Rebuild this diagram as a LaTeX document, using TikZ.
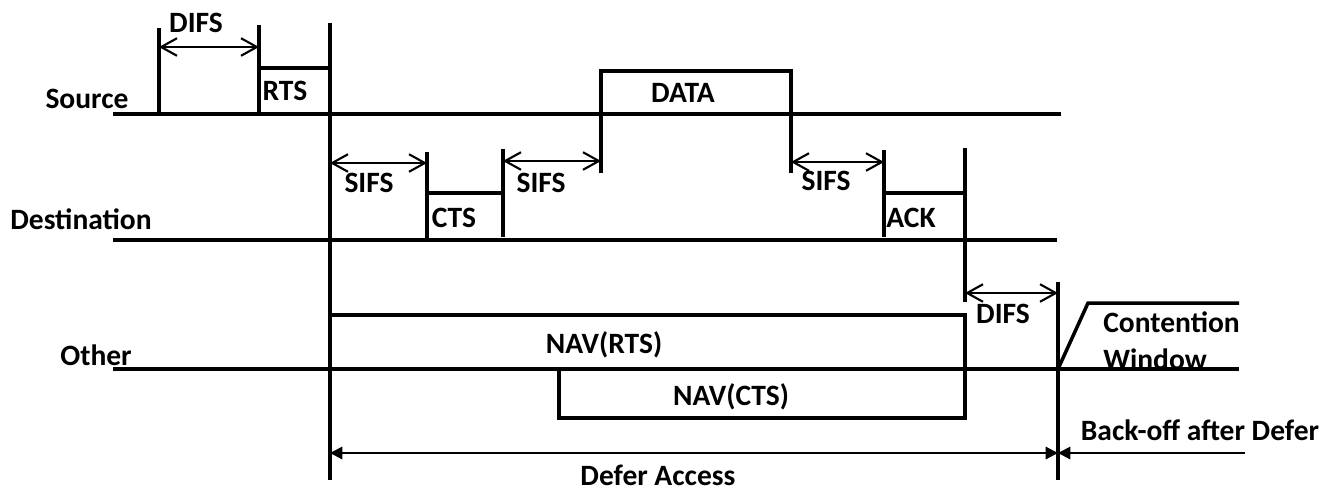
\documentclass[tikz,border=0pt]{standalone}
\usepackage{fontspec}
\setmainfont{Carlito}
\usetikzlibrary{arrows.meta}

\begin{document}
\begin{tikzpicture}[x=0.02cm,y=-0.02cm,
  sig/.style={line width=2pt},
  gap/.style={line width=1.2pt,{Straight Barb[length=9pt,width=10pt]}-{Straight Barb[length=9pt,width=10pt]}},
  span/.style={line width=1.2pt},
  lbl/.style={font=\bfseries\fontsize{16.8}{20}\selectfont,inner sep=0pt,anchor=base}]
\useasboundingbox (0,0) rectangle (1323,491);

% station names
\node[lbl] (src) at (87,108) {Source};
\node[lbl] (dst) at (81,229) {Destination};
\node[lbl] (oth) at (96,365) {Other};

% source
\draw[sig] (113,114) -- (1061,114);
\draw[sig] (159,28) -- (159,114);
\draw[sig] (259,25) -- (259,114);
\draw[sig] (259,68) -- (330,68);
\draw[sig] (330,23) -- (330,480);
\draw[sig] (601,173) |- (791,71) -- (791,173);
\node[lbl] (rts) at (285,100) {RTS};
\node[lbl] (data) at (683,102) {DATA};

% destination
\draw[sig] (113,240) -- (1057,240);
\draw[sig] (427,152) -- (427,240);
\draw[sig] (427,193) -- (503,193);
\draw[sig] (503,149) -- (503,237);
\draw[sig] (884,150) -- (884,237);
\draw[sig] (884,193) -- (965,193);
\draw[sig] (965,148) -- (965,302);
\node[lbl] (cts) at (454,227) {CTS};
\node[lbl] (ack) at (911,227) {ACK};

% other
\draw[sig] (113,369) -- (1239,369);
\draw[sig] (330,315) -| (965,418) -- (559,418) -- (559,369);
\draw[sig] (1058,282) -- (1058,480);
\draw[sig] (1058,369) -- (1088,303) -- (1239,303);
\node[lbl] (navr) at (604,353) {NAV(RTS)};
\node[lbl] (navc) at (731,405) {NAV(CTS)};
\node[lbl,anchor=base west] (cw1) at (1103,332) {Contention};
\node[lbl,anchor=base west] (cw2) at (1103,369) {Window};

% gaps
\coordinate (a1) at (159,47);  \coordinate (a2) at (259,47);
\coordinate (b1) at (330,163); \coordinate (b2) at (427,163);
\coordinate (c1) at (503,161); \coordinate (c2) at (601,161);
\coordinate (e1) at (791,162); \coordinate (e2) at (884,162);
\coordinate (f1) at (965,293); \coordinate (f2) at (1058,293);
\draw[gap] (a1) -- (a2);
\draw[gap] (b1) -- (b2);
\draw[gap] (c1) -- (c2);
\draw[gap] (e1) -- (e2);
\draw[gap] (f1) -- (f2);
\node[lbl] (difs1) at (196,32) {DIFS};
\node[lbl] (sifs1) at (369,192) {SIFS};
\node[lbl] (sifs2) at (541,192) {SIFS};
\node[lbl] (sifs3) at (826,190) {SIFS};
\node[lbl] (difs2) at (1003,323) {DIFS};

% defer and back-off
\coordinate (g1) at (330,453); \coordinate (g2) at (1058,453);
\coordinate (g3) at (1245,453);
\draw[span,{Triangle[length=7pt,width=7pt]}-{Triangle[length=7pt,width=7pt]}] (g1) -- (g2);
\draw[span,-{Triangle[length=7pt,width=7pt]}] (g3) -- (g2);
\node[lbl] (defer) at (658,485) {Defer Access};
\node[lbl] (back) at (1200,440) {Back-off after Defer};
\end{tikzpicture}
\end{document}
